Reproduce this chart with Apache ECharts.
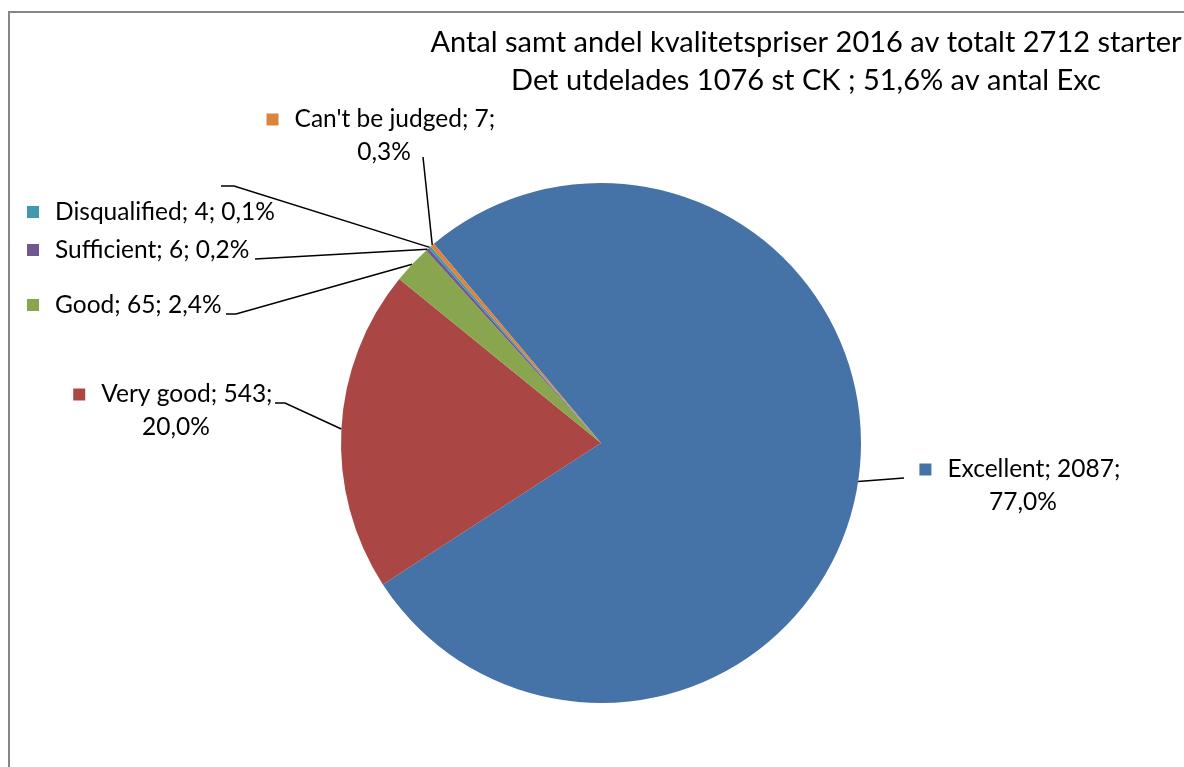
<!DOCTYPE html>
<html>
<head>
<meta charset="utf-8">
<script src="https://cdn.jsdelivr.net/npm/echarts@6/dist/echarts.min.js"></script>
<style>
  html, body { margin: 0; background: #fff; }
  #chart { width: 1184px; height: 767px; }
</style>
</head>
<body>
<div id="chart"></div>
<script>
const categories = ['Excellent', 'Very good', 'Good', 'Sufficient', 'Disqualified', "Can't be judged"];
const counts = [2087, 543, 65, 6, 4, 7];
const colors = ['#4572a7', '#aa4643', '#89a54e', '#71588f', '#4198af', '#db843d'];
const wrapped = [true, true, false, false, false, true];
const titleLines = [
  'Antal samt andel kvalitetspriser 2016 av totalt 2712 starter',
  'Det utdelades 1076 st CK ; 51,6% av antal Exc'
];

// where the labels sit (x, y of block middle, align) and where their leader lines bend
const labelSpots = [[1023, 486, 'center'], [176, 411, 'center'], [27, 305, 'left'], [27, 250, 'left'], [27, 212, 'left'], [384, 136, 'center']];
const lineBends = [[[904, 478]], [[285, 403], [275, 403]], [[236, 314], [226, 314]], [[255, 259]], [[234, 186], [221, 186]], [[423, 157]]];

const total = counts.reduce((a, b) => a + b, 0);
const font = 'Lato, "Open Sans", sans-serif';

var rich = { sp: { width: 16 } };
colors.forEach((c, i) => {
  rich['sq' + i] = { width: 12, height: 12, backgroundColor: c };
});

var chart = echarts.init(document.getElementById('chart'));

chart.setOption({
  animation: false,
  backgroundColor: '#fff',
  title: {
    text: titleLines.join('\n'),
    left: 806,
    top: 24,
    textAlign: 'center',
    padding: 0,
    textStyle: { fontFamily: font, fontSize: 29, fontWeight: 'normal', color: '#000', lineHeight: 38 }
  },
  graphic: [{
    type: 'rect',
    shape: { x: 9, y: 12, width: 1400, height: 1000 },
    style: { fill: 'none', stroke: '#868686', lineWidth: 2 },
    silent: true
  }],
  series: [{
    type: 'pie',
    center: [601, 443],
    radius: 260,
    startAngle: 130,
    clockwise: true,
    avoidLabelOverlap: false,
    silent: true,
    data: categories.map((name, i) => ({ name: name, value: counts[i], itemStyle: { color: colors[i] } })),
    label: {
      show: true,
      position: 'outside',
      fontFamily: font,
      fontSize: 24.5,
      color: '#000',
      lineHeight: 33,
      rich: rich,
      formatter: function (p) {
        let i = p.dataIndex;
        let pct = (p.value / total * 100).toFixed(1).replace('.', ',');
        return '{sq' + i + '|}{sp|}' + p.name + '; ' + p.value + ';' + (wrapped[i] ? ' \n' : ' ') + pct + '%';
      }
    },
    labelLine: { show: true, lineStyle: { color: '#000', width: 1.5 } },
    labelLayout: function (p) {
      let s = labelSpots[p.dataIndex];
      let out = { x: s[0], y: s[1], align: s[2], verticalAlign: 'middle' };
      if (p.labelLinePoints) {
        let start = [p.labelLinePoints[0][0], p.labelLinePoints[0][1]];
        out.labelLinePoints = [start].concat(lineBends[p.dataIndex]);
      }
      return out;
    }
  }]
});
</script>
</body>
</html>
